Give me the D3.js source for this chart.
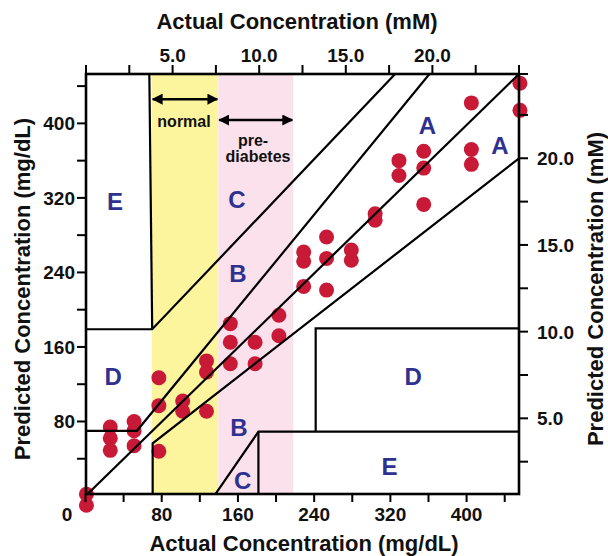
<!DOCTYPE html>
<html>
<head>
<meta charset="utf-8">
<script src="https://cdn.jsdelivr.net/npm/d3@7"></script>
<style>
  html, body { margin: 0; padding: 0; background: #fff; }
  svg { display: block; }
  text { font-family: "Liberation Sans", Arial, Helvetica, sans-serif; font-weight: bold; }
</style>
</head>
<body>
<svg id="chart" width="608" height="556"></svg>
<script>
// ---------------- data ----------------
const actualMg = [1, 1, 26, 26, 26, 51, 51, 51, 77, 77, 77, 102, 102, 127, 127, 127,
  152, 152, 152, 178, 178, 203, 203, 229, 229, 229, 253, 253, 253, 279, 279, 304, 304,
  329, 329, 355, 355, 355, 405, 405, 405, 456, 456];
const predictedMg = [2, -10, 74, 62, 49, 80, 70, 54, 127, 97, 48, 102, 91, 91, 145, 133,
  185, 165, 142, 165, 142, 194, 172, 262, 252, 225, 278, 255, 221, 264, 253, 303, 296,
  360, 344, 370, 352, 313, 422, 372, 356, 443, 414];

const mgTicks = [0, 40, 80, 120, 160, 200, 240, 280, 320, 360, 400, 440];
const mgLabels = [80, 160, 240, 320, 400];
const mMTopTicks = [0, 2.5, 5, 7.5, 10, 12.5, 15, 17.5, 20, 22.5, 25];
const mMRightTicks = [2.5, 5, 7.5, 10, 12.5, 15, 17.5, 20, 22.5];
const mMLabels = [5, 10, 15, 20];

// zone boundary polylines (mg/dL)
const zoneLines = [
  [[0, 0], [455, 453]],
  [[0, 70], [54, 70], [361, 453]],
  [[0, 179], [70, 179], [325, 453]],
  [[70, 179], [67, 453]],
  [[70.5, 0], [70.5, 56.6], [455, 362.5]],
  [[135, 0], [181.5, 69], [455, 69]],
  [[181.5, 0], [181.5, 69]],
  [[241.6, 69], [241.6, 180], [455, 180]]
];
const zoneLetters = ["E", "C", "B", "A", "A", "D", "D", "B", "C", "E"];
const zoneLetterX = [31, 159, 160, 359, 435, 29, 344, 161, 165, 319];
const zoneLetterY = [316, 318, 239, 398, 376, 128, 128, 73, 17, 32];

const bandNames = ["normal", "prediabetes"];
const bandStart = [69.5, 139.4];
const bandEnd = [139.4, 218];
const bandColors = ["#fdf59e", "#fbe1ec"];
const arrowY = [426, 403.6];

// ---------------- layout ----------------
const svg = d3.select("#chart");
const L = 86, R = 519, T = 74, B = 494;

const x = d3.scaleLinear().domain([0, 455]).range([85.5, 519]);
const y = d3.scaleLinear().domain([0, 453]).range([496, 74]);
const xm = d3.scaleLinear().domain([0, 25]).range([86, 519]);
const ym = d3.scaleLinear().domain([0.52, 24.86]).range([496, 74]);

// bands
svg.selectAll("rect.band").data(bandNames).enter().append("rect")
  .attr("class", "band")
  .attr("x", (d, i) => x(bandStart[i]))
  .attr("width", (d, i) => x(bandEnd[i]) - x(bandStart[i]))
  .attr("y", T).attr("height", B - T)
  .attr("fill", (d, i) => bandColors[i]);

// points
const pts = actualMg.map((a, i) => [a, predictedMg[i]]);
svg.append("g").selectAll("circle").data(pts).enter().append("circle")
  .attr("cx", d => x(d[0])).attr("cy", d => y(d[1])).attr("r", 7.5)
  .attr("fill", "#c81a37");

// zone lines
const clip = svg.append("clipPath").attr("id", "plotclip").append("rect")
  .attr("x", L).attr("y", T).attr("width", R - L).attr("height", B - T);
const line = d3.line().x(d => x(d[0])).y(d => y(d[1]));
svg.append("g").attr("clip-path", "url(#plotclip)").selectAll("path").data(zoneLines).enter().append("path")
  .attr("d", line).attr("fill", "none").attr("stroke", "#000").attr("stroke-width", 2.2);

// frame
svg.append("rect").attr("x", L).attr("y", T).attr("width", R - L).attr("height", B - T)
  .attr("fill", "none").attr("stroke", "#000").attr("stroke-width", 2.6);

// ticks
const tk = svg.append("g").attr("stroke", "#000").attr("stroke-width", 2);
tk.selectAll("line.bx").data(mgTicks).enter().append("line")
  .attr("x1", d => x(d)).attr("x2", d => x(d)).attr("y1", B).attr("y2", B + 8);
tk.selectAll("line.ly").data(mgTicks.filter(d => d > 0)).enter().append("line")
  .attr("y1", d => y(d)).attr("y2", d => y(d)).attr("x1", L).attr("x2", L - 9);
tk.selectAll("line.tx").data(mMTopTicks).enter().append("line")
  .attr("x1", d => xm(d)).attr("x2", d => xm(d)).attr("y1", T).attr("y2", T - 9);
tk.selectAll("line.ry").data(mMRightTicks).enter().append("line")
  .attr("y1", d => ym(d)).attr("y2", d => ym(d)).attr("x1", R).attr("x2", R + 9);
tk.append("line").attr("x1", R).attr("x2", R + 9).attr("y1", T).attr("y2", T);

// tick labels
const tl = svg.append("g").attr("font-size", 19).attr("fill", "#111");
tl.selectAll("text.b").data(mgLabels).enter().append("text")
  .attr("x", d => x(d)).attr("y", 521).attr("text-anchor", "middle").text(d => d);
tl.append("text").attr("x", 67).attr("y", 521).attr("text-anchor", "middle").text("0");
tl.selectAll("text.l").data(mgLabels).enter().append("text")
  .attr("x", 75).attr("y", d => y(d) + 7).attr("text-anchor", "end").text(d => d);
tl.selectAll("text.t").data(mMLabels).enter().append("text")
  .attr("x", d => xm(d)).attr("y", 62).attr("text-anchor", "middle").text(d => d.toFixed(1));
tl.selectAll("text.r").data(mMLabels).enter().append("text")
  .attr("x", 537).attr("y", d => ym(d) + 7).attr("text-anchor", "start").text(d => d.toFixed(1));

// titles
const tt = svg.append("g").attr("font-size", 22).attr("fill", "#111").attr("text-anchor", "middle");
tt.append("text").attr("x", 297).attr("y", 29).text("Actual Concentration (mM)");
tt.append("text").attr("x", 304).attr("y", 551).text("Actual Concentration (mg/dL)");
tt.append("text").attr("transform", "translate(30,289) rotate(-90)").text("Predicted Concentration (mg/dL)");
tt.append("text").attr("transform", "translate(603,289) rotate(-90)").text("Predicted Concentration (mM)");

// zone letters
svg.append("g").selectAll("text").data(zoneLetters).enter().append("text")
  .attr("x", (d, i) => x(zoneLetterX[i])).attr("y", (d, i) => y(zoneLetterY[i]) + 8.5)
  .attr("text-anchor", "middle").attr("font-size", 24).attr("fill", "#2e3190")
  .text(d => d);

// arrows
const defs = svg.append("defs");
defs.append("marker").attr("id", "ah").attr("viewBox", "0 0 10 10").attr("refX", 9).attr("refY", 5)
  .attr("markerWidth", 11).attr("markerHeight", 11).attr("markerUnits", "userSpaceOnUse")
  .attr("orient", "auto-start-reverse")
  .append("path").attr("d", "M0,0 L10,5 L0,10 Z").attr("fill", "#000");
svg.append("g").selectAll("line").data(bandNames).enter().append("line")
  .attr("x1", (d, i) => x(bandStart[i]) + 1).attr("x2", (d, i) => x(bandEnd[i]) - 1)
  .attr("y1", (d, i) => y(arrowY[i])).attr("y2", (d, i) => y(arrowY[i]))
  .attr("stroke", "#000").attr("stroke-width", 2.5)
  .attr("marker-start", "url(#ah)").attr("marker-end", "url(#ah)");

const an = svg.append("g").attr("font-size", 16).attr("fill", "#111").attr("text-anchor", "middle");
an.append("text").attr("x", 184).attr("y", 127).text("normal");
an.append("text").attr("x", 253).attr("y", 146).text("pre-");
an.append("text").attr("x", 258).attr("y", 162).text("diabetes");
</script>
</body>
</html>
